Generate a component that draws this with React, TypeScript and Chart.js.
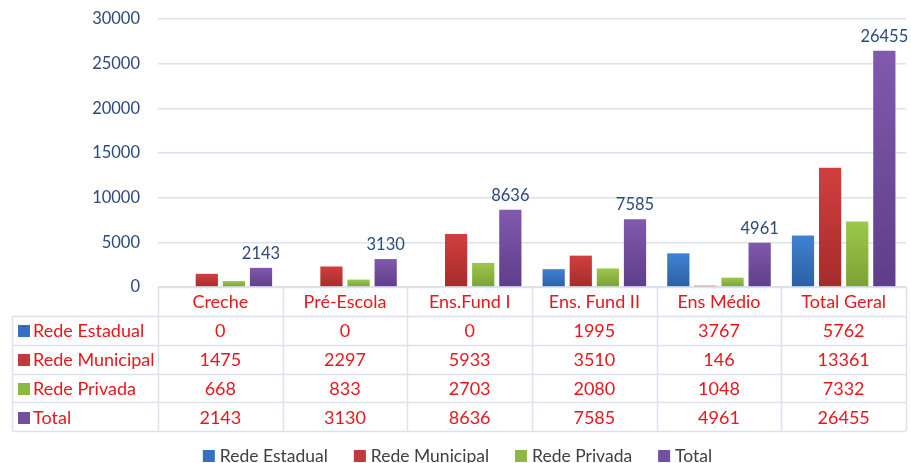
import { useEffect, useRef } from "react";
import { Chart, registerables } from "chart.js";
Chart.register(...registerables);

const categories = ["Creche", "Pré-Escola", "Ens.Fund I", "Ens. Fund II", "Ens Médio", "Total Geral"];
const seriesNames = ["Rede Estadual", "Rede Municipal", "Rede Privada", "Total"];
const redeEstadual = [0, 0, 0, 1995, 3767, 5762];
const redeMunicipal = [1475, 2297, 5933, 3510, 146, 13361];
const redePrivada = [668, 833, 2703, 2080, 1048, 7332];
const total = [2143, 3130, 8636, 7585, 4961, 26455];
const yMax = 30000;
const yStep = 5000;

const seriesValues = [redeEstadual, redeMunicipal, redePrivada, total];
const topColors = ["#3f82d2", "#d13f3d", "#9cc84b", "#8159ad"];
const bottomColors = ["#2c5fa3", "#a52c2b", "#7ba135", "#5e3e8a"];
const solidColors = ["#3470bf", "#c0393b", "#8cb843", "#7150a0"];

const FONT = "Lato, 'Open Sans', sans-serif";
const TEXT_RED = "#e8171d";
const AXIS_BLUE = "#2d4a7c";
const GRID = "#dbe1ef";

const tablePlugin = {
  id: "dataTable",
  afterDraw(chart: any) {
    const { ctx, chartArea } = chart;
    const left = chartArea.left;
    const right = chartArea.right;
    const colW = (right - left) / categories.length;
    const top = chartArea.bottom;
    const headerH = 29;
    const rowH = 28.8;
    const tableLeft = 12;
    const rowsTop = top + headerH;
    const bottom = rowsTop + rowH * seriesNames.length;
    ctx.save();
    ctx.strokeStyle = GRID;
    ctx.lineWidth = 1.5;
    ctx.beginPath();
    ctx.moveTo(left, top + 0.5);
    ctx.lineTo(right, top + 0.5);
    for (let r = 0; r <= seriesNames.length; r++) {
      const y = Math.round(rowsTop + r * rowH) + 0.5;
      ctx.moveTo(tableLeft, y);
      ctx.lineTo(right, y);
    }
    for (let c = 0; c <= categories.length; c++) {
      const x = Math.round(left + c * colW) + 0.5;
      ctx.moveTo(x, top);
      ctx.lineTo(x, bottom);
    }
    ctx.moveTo(tableLeft + 0.5, rowsTop);
    ctx.lineTo(tableLeft + 0.5, bottom);
    ctx.stroke();

    ctx.font = `18px ${FONT}`;
    ctx.fillStyle = TEXT_RED;
    ctx.textAlign = "center";
    ctx.textBaseline = "middle";
    categories.forEach((c, i) => {
      ctx.fillText(c, left + colW * (i + 0.5), top + headerH / 2 + 1);
    });
    seriesNames.forEach((name, r) => {
      const cy = rowsTop + rowH * (r + 0.5) + 1;
      ctx.fillStyle = solidColors[r];
      ctx.fillRect(18, Math.round(cy - 6), 12, 12);
      ctx.fillStyle = TEXT_RED;
      ctx.textAlign = "left";
      ctx.fillText(name, 33, cy);
      ctx.textAlign = "center";
      seriesValues[r].forEach((v, i) => {
        ctx.fillText(String(v), left + colW * (i + 0.5), cy);
      });
    });

    // legend
    const legendY = 455;
    ctx.font = `17.5px ${FONT}`;
    const box = 12;
    const boxGap = 5;
    const itemGap = 26;
    const widths = seriesNames.map((n) => ctx.measureText(n).width);
    const totalW = widths.reduce((a, w) => a + box + boxGap + w, 0) + itemGap * (seriesNames.length - 1);
    let x = chart.width / 2 - totalW / 2 + 2;
    ctx.textAlign = "left";
    seriesNames.forEach((n, i) => {
      ctx.fillStyle = solidColors[i];
      ctx.fillRect(x, legendY - 5, box, box);
      x += box + boxGap;
      ctx.fillStyle = "#404040";
      ctx.fillText(n, x, legendY + 1);
      x += widths[i] + itemGap;
    });
    ctx.restore();
  },
};

const labelPlugin = {
  id: "totalLabels",
  afterDatasetsDraw(chart: any) {
    const { ctx } = chart;
    const meta = chart.getDatasetMeta(3);
    ctx.save();
    ctx.font = `16.5px ${FONT}`;
    ctx.fillStyle = AXIS_BLUE;
    ctx.textAlign = "center";
    ctx.textBaseline = "bottom";
    meta.data.forEach((bar: any, i: number) => {
      ctx.fillText(String(total[i]), bar.x, bar.y - 6);
    });
    ctx.restore();
  },
};

function gradientFor(idx: number) {
  return (c: any) => {
    const chart = c.chart;
    const area = chart.chartArea;
    const ys = chart.scales && chart.scales.y;
    if (!area || !ys || c.type !== "data") return solidColors[idx];
    const v = c.parsed ? c.parsed.y : c.raw;
    const yTop = ys.getPixelForValue(v);
    const yBot = ys.getPixelForValue(0);
    if (!isFinite(yTop) || !isFinite(yBot) || Math.abs(yBot - yTop) < 1) return solidColors[idx];
    const g = chart.ctx.createLinearGradient(0, yTop, 0, yBot);
    g.addColorStop(0, topColors[idx]);
    g.addColorStop(1, bottomColors[idx]);
    return g;
  };
}

export default function App() {
  const ref = useRef<HTMLCanvasElement | null>(null);
  useEffect(() => {
    document.body.style.margin = "0";
    const canvas = ref.current;
    if (!canvas) return;
    const chart = new Chart(canvas, {
      type: "bar",
      data: {
        labels: categories,
        datasets: seriesNames.map((name, i) => ({
          label: name,
          data: seriesValues[i],
          backgroundColor: gradientFor(i),
          borderWidth: 0,
          categoryPercentage: 0.87,
          barPercentage: 0.82,
        })),
      },
      options: {
        animation: false,
        responsive: true,
        maintainAspectRatio: false,
        layout: { padding: { top: 19, right: 5, bottom: 176, left: 0 } },
        plugins: {
          legend: { display: false },
          tooltip: { enabled: false },
        },
        scales: {
          x: {
            display: false,
            grid: { display: false },
          },
          y: {
            min: 0,
            max: yMax,
            border: { display: false },
            grid: { color: GRID, lineWidth: 1.5, drawTicks: false },
            ticks: {
              stepSize: yStep,
              padding: 18,
              color: AXIS_BLUE,
              font: { family: FONT, size: 16.5 },
              callback: (v: any) => String(v),
            },
            afterFit(scale: any) {
              scale.width = 158;
              scale.paddingTop = 0;
              scale.paddingBottom = 0;
            },
          },
        },
      },
      plugins: [tablePlugin, labelPlugin],
    });
    return () => chart.destroy();
  }, []);
  return (
    <div style={{ width: 911, height: 463, position: "relative" }}>
      <canvas ref={ref} />
    </div>
  );
}
